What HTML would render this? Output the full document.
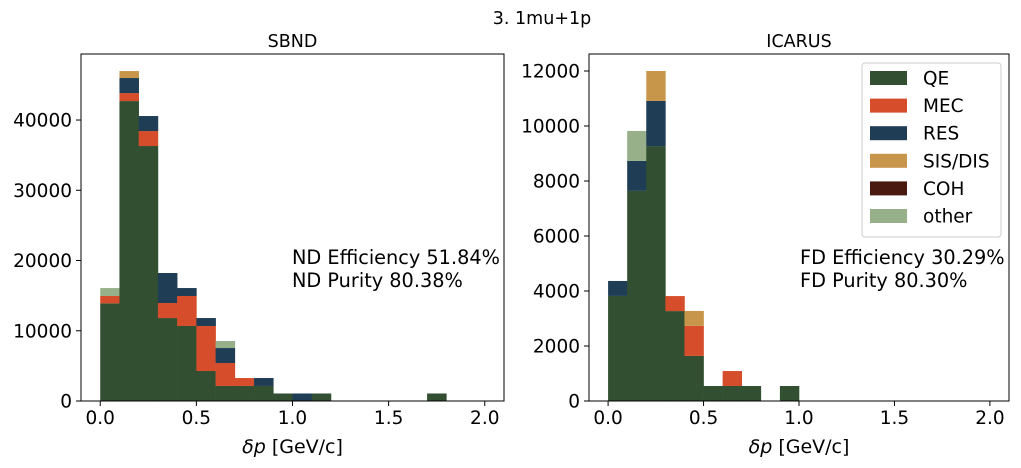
<!DOCTYPE html>
<html><head><meta charset="utf-8"><style>
body{margin:0;background:#fff}
svg{display:block;font-family:"DejaVu Sans","Liberation Sans",sans-serif}
</style></head><body>
<svg id="c" width="1021" height="468" xmlns="http://www.w3.org/2000/svg">
<text x="542" y="24" font-size="17.5" text-anchor="middle">3. 1mu+1p</text>
</svg>
<script>
const categories=["QE","MEC","RES","SIS/DIS","COH","other"];
const colors=["#324f31","#d54d2a","#1f3d55","#c8964b","#4a1a10","#97b08a"];
const binEdgesStart=0, binWidth=0.1;
const sbndQE=[13900,42700,36300,11810,10680,4270,2140,2140,2140,1070,0,1070,0,0,0,0,0,1070,0,0];
const sbndMEC=[1050,1140,2130,2140,4270,6410,3270,1130,0,0,0,0,0,0,0,0,0,0,0,0];
const sbndRES=[0,2140,2140,4270,1130,1130,2130,0,1130,0,1070,0,0,0,0,0,0,0,0,0];
const sbndSIS=[0,990,0,0,0,0,0,0,0,0,0,0,0,0,0,0,0,0,0,0];
const sbndCOH=[0,0,0,0,0,0,0,0,0,0,0,0,0,0,0,0,0,0,0,0];
const sbndOther=[1130,0,0,0,0,0,1000,0,0,0,0,0,0,0,0,0,0,0,0,0];
const icQE=[3820,7640,9270,3270,1640,545,545,545,0,545,0,0,0,0,0,0,0,0,0,0];
const icMEC=[0,0,0,545,1090,0,545,0,0,0,0,0,0,0,0,0,0,0,0,0];
const icRES=[545,1090,1640,0,0,0,0,0,0,0,0,0,0,0,0,0,0,0,0,0];
const icSIS=[0,0,1090,0,545,0,0,0,0,0,0,0,0,0,0,0,0,0,0,0];
const icCOH=[0,0,0,0,0,0,0,0,0,0,0,0,0,0,0,0,0,0,0,0];
const icOther=[0,1090,0,0,0,0,0,0,0,0,0,0,0,0,0,0,0,0,0,0];
const xTicks=[0,0.5,1,1.5,2];
const xTickLabels=["0.0","0.5","1.0","1.5","2.0"];
const sbndYTicks=[0,10000,20000,30000,40000];
const icYTicks=[0,2000,4000,6000,8000,10000,12000];

const svg=document.getElementById('c');
const NS="http://www.w3.org/2000/svg";
function el(t,a,p){const e=document.createElementNS(NS,t);for(const k in a)e.setAttribute(k,a[k]);(p||svg).appendChild(e);return e;}

function panel(cfg){
  const {L,R,T,B,ymax,series,yTicks,title,name,ann}=cfg;
  const xs=v=>L+(v+0.1)/2.2*(R-L);
  const ys=v=>B-v/ymax*(B-T);
  const g=el('g',{});
  
  
  for(let i=0;i<20;i++){
    let acc=0;
    series.forEach((s,k)=>{
      const v=s[i]; if(!v) return;
      const x0=xs(binEdgesStart+i*binWidth), x1=xs(binEdgesStart+(i+1)*binWidth);
      const r=el('rect',{x:x0,y:ys(acc+v),width:x1-x0+0.3,height:ys(acc)-ys(acc+v),fill:colors[k]},g);
      
      
      acc+=v;
    });
  }
  const fr=el('rect',{x:L,y:T,width:R-L,height:B-T,fill:'none',stroke:'#000','stroke-width':1},g);
  
  
  xTicks.forEach((v,i)=>{
    el('line',{x1:xs(v),x2:xs(v),y1:B,y2:B+5,stroke:'#000'},g);
    const t=el('text',{x:xs(v),y:B+23,'font-size':18.5,'text-anchor':'middle'},g);
    t.textContent=xTickLabels[i];
    
    
  });
  yTicks.forEach(v=>{
    el('line',{x1:L-5,x2:L,y1:ys(v),y2:ys(v),stroke:'#000'},g);
    const t=el('text',{x:L-9,y:ys(v)+6.5,'font-size':18.5,'text-anchor':'end'},g);
    t.textContent=String(v);
    
    
  });
  const tt=el('text',{x:(L+R)/2,y:T-7,'font-size':17.5,'text-anchor':'middle'},g);
  tt.textContent=title;
  
  
  const xl=el('text',{x:(L+R)/2,y:B+52,'font-size':19,'text-anchor':'middle'},g);
  xl.innerHTML='<tspan font-style="italic">δp</tspan> [GeV/c]';
  
  
  ann.forEach((s,i)=>{
    const a=el('text',{x:cfg.annX,y:264+i*23,'font-size':19.3},g);
    a.textContent=s;
    
    
  });
}
panel({L:81,R:504,T:54,B:401,ymax:49400,series:[sbndQE,sbndMEC,sbndRES,sbndSIS,sbndCOH,sbndOther],yTicks:sbndYTicks,title:'SBND',name:'sbnd',ann:['ND Efficiency 51.84%','ND Purity 80.38%'],annX:292});
panel({L:589,R:1009,T:54,B:401,ymax:12618,series:[icQE,icMEC,icRES,icSIS,icCOH,icOther],yTicks:icYTicks,title:'ICARUS',name:'icarus',ann:['FD Efficiency 30.29%','FD Purity 80.30%'],annX:800});

const lg=el('g',{});


el('rect',{x:862,y:63,width:139,height:174,rx:3,fill:'#fff','fill-opacity':0.8,stroke:'#ccc'},lg);
categories.forEach((c,k)=>{
  const y=78+k*27.6;
  const e=el('g',{},lg);
  
  
  el('rect',{x:870,y:y-7,width:37,height:14,fill:colors[k]},e);
  const t=el('text',{x:923,y:y+6.5,'font-size':18.5},e);
  t.textContent=c;
});
</script>
</body></html>
